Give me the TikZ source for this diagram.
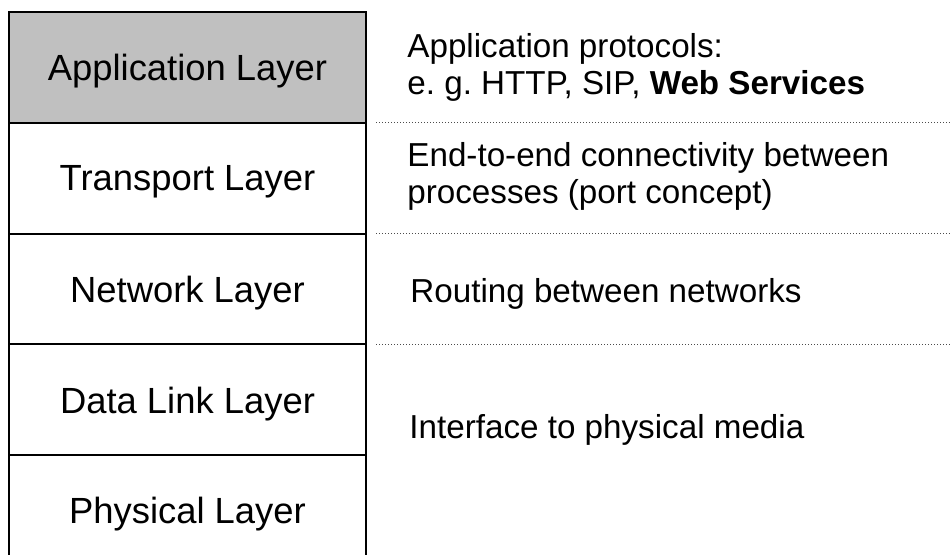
\documentclass[tikz,border=0pt]{standalone}
\usepackage{fontspec}
\setmainfont{Liberation Sans}
\usetikzlibrary{positioning}
\definecolor{appgray}{RGB}{192,192,192}
\frenchspacing
\begin{document}
\begin{tikzpicture}[
  x=0.5pt,y=-0.5pt,
  node distance=0pt,
  layer/.style={draw,line width=1pt,minimum width=178.5pt,minimum height=55.4pt,
                outer sep=0pt,inner sep=0pt,text depth=0pt,
                font=\fontsize{18.2}{21}\selectfont},
  desc/.style={anchor=west,inner sep=0pt,align=left,
               font=\fontsize{16.6}{18.5}\selectfont},
  sep/.style={line width=0.5pt,black!70,dash pattern=on 0.5pt off 1pt}]
\clip (0,0) rectangle (951,554);
% protocol stack
\node[layer,fill=appgray,anchor=north west] (app) at (9,12) {Application Layer};
\node[layer,below=of app] (trans) {Transport Layer};
\node[layer,below=of trans] (net) {Network Layer};
\node[layer,below=of net] (link) {Data Link Layer};
\node[layer,below=of link] (phys) {Physical Layer};
% descriptions
\node[desc] (appdesc) at (407,67) {Application protocols:\\e. g. HTTP, SIP, \textbf{Web Services}};
\node[desc] (transdesc) at (407,176) {End-to-end connectivity between\\processes (port concept)};
\node[desc] (netdesc) at (410,294) {Routing between networks};
\node[desc] (physdesc) at (409,430) {Interface to physical media};
\coordinate (rim) at (951,0);
\foreach \l in {app,trans,net}
  \draw[sep] ([xshift=5pt]\l.south east) -- (\l.south east -| rim);
\end{tikzpicture}
\end{document}
